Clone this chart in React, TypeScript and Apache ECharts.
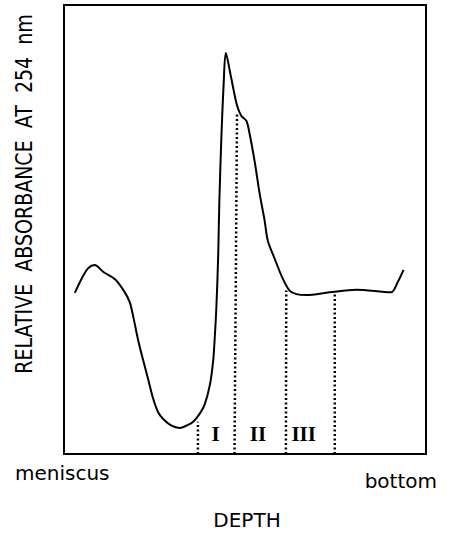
import React, { useEffect, useRef } from "react";
import * as echarts from "echarts";

// Depth (0 = meniscus, 100 = bottom) and relative absorbance (0..100, arbitrary units)
const depth = [
  3.0, 4.9, 6.7, 8.5, 10.8, 14.1, 16.8, 18.2, 19.1, 20.5, 21.9, 23.3, 24.6, 26.0, 27.4, 29.7,
  32.0, 33.8, 35.7, 37.5, 38.8, 40.3, 41.2, 41.6, 42.1, 42.6, 42.9, 43.5, 44.1, 44.7, 46.2,
  47.8, 49.0, 50.4, 51.3, 52.7, 54.0, 55.4, 56.3, 58.1, 60.4, 62.3, 64.2, 66.9, 73.3, 80.7,
  90.3, 92.2, 93.8,
];
const absorbance = [
  35.9, 39.1, 41.4, 42.1, 40.6, 38.9, 36.0, 33.7, 30.7, 25.3, 20.8, 16.5, 12.4, 9.3, 7.8, 6.3,
  5.8, 6.3, 7.2, 9.0, 10.9, 15.4, 20.7, 25.3, 32.8, 44.4, 55.9, 71.1, 82.4, 89.3, 83.7,
  77.6, 75.3, 74.2, 71.2, 65.0, 58.2, 52.1, 47.5, 43.7, 39.1, 36.4, 35.6, 35.4, 36.0, 36.6,
  36.0, 38.3, 41.0,
];

// Dotted fraction boundaries: [x bottom, x top, top absorbance]
const boundaryBottomX = [37.0, 47.1, 61.3, 74.8];
const boundaryTopX = [37.0, 47.8, 61.4, 74.8];
const boundaryTopY = [7.2, 76.1, 36.4, 36.0];

const fractionLabels = ["I", "II", "III"];
const fractionLabelX = [41.9, 53.6, 66.2];
const fractionLabelY = 4.4;

const yTitle = "RELATIVE  ABSORBANCE  AT  254  nm";
const xTitle = "DEPTH";
const leftLabel = "meniscus";
const rightLabel = "bottom";

const txt = (text: string, x: number, y: number, align: string, extra: any = {}) => ({
  type: "text",
  x,
  y,
  ...extra,
  style: {
    text,
    fontFamily: "DejaVu Sans",
    fontSize: 20,
    fill: "#000",
    align,
    verticalAlign: "middle",
    textAlign: align,
    textVerticalAlign: "middle",
    ...(extra.style || {}),
  },
});

export default function App() {
  const ref = useRef<HTMLDivElement>(null);
  useEffect(() => {
    if (!ref.current) return;
    const chart = echarts.init(ref.current, null, { renderer: "svg" });
    const curve = depth.map((d, i) => [d, absorbance[i]]);
    const boundarySeries = boundaryBottomX.map((bx, i) => ({
      type: "line",
      data: [
        [bx, 0],
        [boundaryTopX[i], boundaryTopY[i]],
      ],
      symbol: "none",
      silent: true,
      lineStyle: { color: "#000", width: 2.5, type: [2, 2.5] },
    }));
    chart.setOption({
      animation: false,
      backgroundColor: "#fff",
      grid: {
        left: 64,
        right: 26,
        top: 5,
        bottom: 79,
        show: true,
        borderColor: "#000",
        borderWidth: 2,
        backgroundColor: "transparent",
      },
      xAxis: { type: "value", min: 0, max: 100, show: false },
      yAxis: { type: "value", min: 0, max: 100, show: false },
      series: [
        {
          type: "line",
          data: curve,
          smooth: 0.3,
          symbol: "none",
          lineStyle: { color: "#000", width: 2 },
        },
        ...boundarySeries,
      ],
    });
    const romanGraphics = fractionLabels.map((t, i) => {
      const p = chart.convertToPixel({ gridIndex: 0 }, [fractionLabelX[i], fractionLabelY]) as number[];
      const g: any = txt(t, p[0], p[1], "center", {
        style: { fontFamily: "Liberation Serif", fontWeight: "bold", fontSize: 21, fill: "#000" },
      });
      return g;
    });
    chart.setOption({
      graphic: [
        txt(yTitle, 24, 194, "center", { rotation: Math.PI / 2, scaleY: 1.25, style: { fontSize: 19 } }),
        txt(leftLabel, 15, 473, "left"),
        txt(rightLabel, 437, 481, "right"),
        txt(xTitle, 247, 520, "center"),
        ...romanGraphics,
      ],
    });
    return () => chart.dispose();
  }, []);
  return <div ref={ref} style={{ width: 452, height: 533, position: "absolute", left: 0, top: 0 }} />;
}
